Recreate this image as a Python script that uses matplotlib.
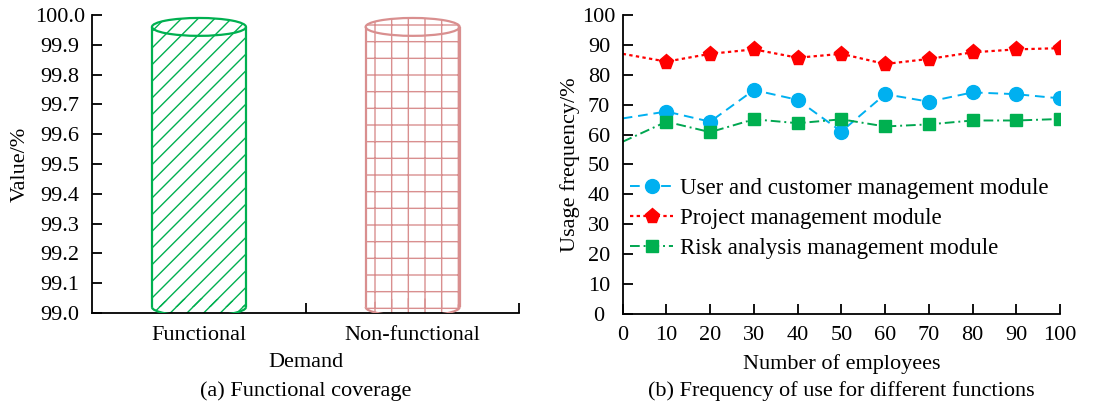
import matplotlib.pyplot as plt
from matplotlib.patches import Ellipse, Arc
import numpy as np

plt.rcParams['font.family'] = ['Liberation Serif', 'DejaVu Serif']
plt.rcParams['font.size'] = 16
plt.rcParams['hatch.linewidth'] = 1.0

# ---------------- data ----------------
demand = ["Functional", "Non-functional"]
coverage = [99.96, 99.96]

employees = [0, 10, 20, 30, 40, 50, 60, 70, 80, 90, 100]
user_module = [65.4, 67.7, 64.3, 74.9, 71.6, 61.0, 73.5, 71.0, 74.1, 73.5, 72.1]
project_module = [87.0, 84.4, 87.0, 88.5, 85.7, 87.0, 83.6, 85.3, 87.5, 88.5, 88.9]
risk_module = [57.6, 64.3, 60.8, 65.1, 63.8, 65.1, 62.7, 63.4, 64.7, 64.7, 65.2]

fig = plt.figure(figsize=(11.1, 4.05), dpi=100)
ax1 = fig.add_axes([0.083, 0.227, 0.385, 0.736])
ax2 = fig.add_axes([0.561, 0.225, 0.394, 0.738])

for ax in (ax1, ax2):
    ax.spines['top'].set_visible(False)
    ax.spines['right'].set_visible(False)
    ax.spines['left'].set_linewidth(1.3)
    ax.spines['bottom'].set_linewidth(1.3)
    ax.tick_params(direction='in', length=7, width=1.3, labelsize=16)

###############################################################################
# (a) cylinders
base = 99.02
w = 0.44
eh = 0.06
styles = [("#00B050", "//"), ("#D98F8F", "+")]
xs = np.arange(len(demand))
for x, val, (col, hatch) in zip(xs, coverage, styles):
    ax1.bar(x, val - base, bottom=base, width=w, fill=False, hatch=hatch,
            edgecolor=col, linewidth=0)
    ax1.add_patch(Ellipse((x, base), w, eh, fill=False, hatch=hatch,
                          edgecolor=col, linewidth=0))
    ax1.add_patch(Ellipse((x, val), w, eh, facecolor='white', hatch=hatch,
                          edgecolor=col, linewidth=1.6, zorder=3))
    ax1.add_patch(Arc((x, base), w, eh, theta1=180, theta2=360,
                      edgecolor=col, linewidth=1.6, zorder=3))
    ax1.vlines([x - w / 2, x + w / 2], base, val, color=col, linewidth=1.6, zorder=3)

ax1.set_xlim(-0.5, 1.5)
ax1.set_ylim(99.0, 100.0)
ax1.set_yticks(np.arange(99.0, 100.01, 0.1))
ax1.set_yticklabels([f"{v:.1f}" for v in np.arange(99.0, 100.01, 0.1)], ha='center')
ax1.tick_params(axis='y', pad=23)
ax1.set_xticks([0.5, 1.5])
ax1.set_xticklabels([])
ax1.set_xticks(xs, minor=True)
ax1.set_xticklabels(demand, minor=True)
ax1.tick_params(axis='x', which='minor', length=0, pad=9, labelsize=16)
ax1.set_xlabel("Demand", fontsize=16, labelpad=6)
ax1.set_ylabel("Value/%", fontsize=16, labelpad=4)
fig.text(0.275, 0.022, "(a) Functional coverage", ha='center', fontsize=16)

###############################################################################
# (b) usage frequency
ax2.plot(employees, user_module, color="#00B0F0", linestyle=(0, (5, 3)), linewidth=1.4,
         marker='o', markersize=10, markevery=list(range(1, len(employees))),
         label="User and customer management module")
ax2.plot(employees, project_module, color="#FF0000", linestyle=(0, (1.5, 1.5)), linewidth=1.6,
         marker='p', markersize=11, markevery=list(range(1, len(employees))),
         label="Project management module")
ax2.plot(employees, risk_module, color="#00A650", linestyle=(0, (5, 2, 1, 2)), linewidth=1.4,
         marker='s', markersize=9, markerfacecolor="#00B050", markeredgecolor="#00B050",
         markevery=list(range(1, len(employees))),
         label="Risk analysis management module")

ax2.set_xlim(0, 100)
ax2.set_ylim(0, 100)
ax2.set_xticks(employees)
ax2.set_yticks(range(0, 101, 10))
ax2.set_yticklabels([str(v) for v in range(0, 101, 10)], ha='center')
ax2.tick_params(axis='y', pad=17)
ax2.tick_params(axis='x', pad=9)
ax2.set_xlabel("Number of employees", fontsize=16, labelpad=6)
ax2.set_ylabel("Usage frequency/%", fontsize=16, labelpad=2)
ax2.legend(loc='upper left', bbox_to_anchor=(-0.015, 0.5), frameon=False,
           fontsize=16.5, labelspacing=0.38, handlelength=1.9, handletextpad=0.3,
           borderaxespad=0.2)
fig.text(0.758, 0.022, "(b) Frequency of use for different functions", ha='center', fontsize=16)

fig.savefig("out.png", dpi=100)
